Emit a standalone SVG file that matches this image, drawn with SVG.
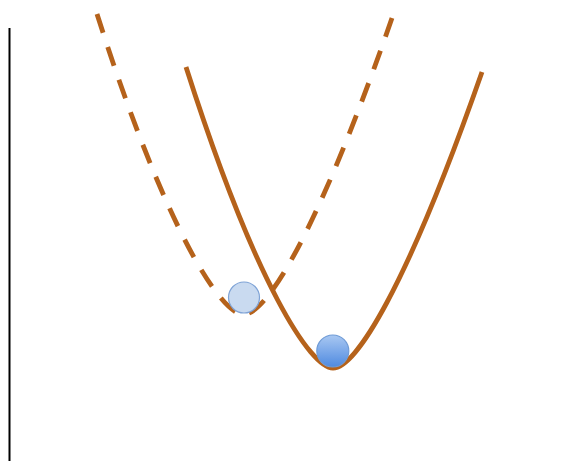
<svg xmlns="http://www.w3.org/2000/svg" width="564" height="461" viewBox="0 0 564 461">
<style>
.curve{fill:none;stroke:#b5621b;stroke-width:4.8}
.dash{stroke-dasharray:20 15}
</style>
<defs>
<linearGradient id="g" x1="0" y1="0" x2="0" y2="1">
<stop offset="0" stop-color="#a9c8f2"/>
<stop offset="1" stop-color="#4f8ae0"/>
</linearGradient>
</defs>
<rect width="564" height="461" fill="#fff"/>
<g id="axis"><line x1="9.5" y1="28" x2="9.5" y2="461" stroke="#000" stroke-width="2"/></g>
<g id="connectors">
<path id="dashed-well" class="curve dash" pathLength="685" d="M97,14 C166.9,233.5 221.5,314.5 243.5,314.5 C265.5,314.5 315.5,238.5 392,18"/>
<path id="solid-well" class="curve" d="M186,67 C256.4,287 311,368 333,368 C355,368 405,292 482,72"/>
</g>
<g id="ball-old"><circle cx="244" cy="297.5" r="15.5" fill="#c9daf0" stroke="#7fa3d6" stroke-width="1.2"/></g>
<g id="ball-new"><circle cx="332.8" cy="351" r="16" fill="url(#g)" stroke="#6f9bd6" stroke-width="1.2"/></g>
</svg>
